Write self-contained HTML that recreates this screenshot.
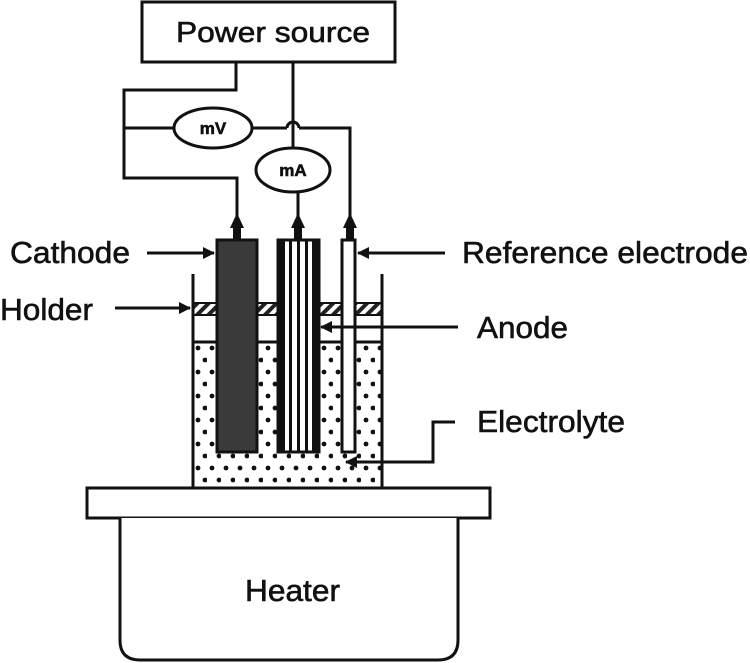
<!DOCTYPE html>
<html><head><style>
html,body{margin:0;padding:0;background:#fff;}
svg{display:block;}
text{font-family:"Liberation Sans",Arial,sans-serif;fill:#111;stroke:#111;stroke-width:0.6;}
</style></head><body>
<svg width="750" height="663" viewBox="0 0 750 663" xmlns="http://www.w3.org/2000/svg">
<defs>
<pattern id="dots" x="193" y="342" width="14" height="24" patternUnits="userSpaceOnUse">
<circle cx="5" cy="6" r="2.4" fill="#111"/>
<circle cx="12" cy="18" r="2.4" fill="#111"/>
</pattern>
<pattern id="hatch" width="8" height="8" patternUnits="userSpaceOnUse" patternTransform="rotate(45)">
<rect width="8" height="8" fill="#fff"/>
<rect width="4" height="8" fill="#222"/>
</pattern>
<marker id="ah" markerWidth="12" markerHeight="12" refX="11" refY="6" orient="auto" markerUnits="userSpaceOnUse">
<path d="M0,0 L12,6 L0,12 Z" fill="#111"/>
</marker>
</defs>
<g stroke="#111" stroke-width="3" fill="none">
<rect x="142" y="2" width="253" height="60" fill="#fff"/>
<polyline points="236,62 236,90 124,90 124,178 237,178 237,220"/>
<line x1="124" y1="128" x2="174" y2="128"/>
<ellipse cx="213" cy="128" rx="39" ry="20" fill="#fff"/>
<polyline points="252,128 287,128"/>
<path d="M287,128 a6,6 0 0 1 12,0"/>
<polyline points="299,128 350,128 350,220"/>
<line x1="293" y1="62" x2="293" y2="148"/>
<ellipse cx="293" cy="170" rx="37" ry="22" fill="#fff"/>
<line x1="298" y1="192" x2="298" y2="220"/>
</g>
<g fill="#111">
<path d="M230,228 L237,213 L244,228 Z"/><rect x="233" y="222" width="8" height="18"/>
<path d="M291,228 L298,213 L305,228 Z"/><rect x="294" y="222" width="8" height="18"/>
<path d="M343,228 L350,213 L357,228 Z"/><rect x="346" y="222" width="8" height="18"/>
</g>
<text x="176" y="42" font-size="29" textLength="194" lengthAdjust="spacingAndGlyphs">Power source</text>
<text x="213" y="134" font-size="17" font-weight="bold" text-anchor="middle" stroke-width="0">mV</text>
<text x="293" y="176" font-size="17" font-weight="bold" text-anchor="middle" stroke-width="0">mA</text>
<rect x="193" y="342" width="189" height="145" fill="url(#dots)"/>
<line x1="193" y1="342" x2="382" y2="342" stroke="#111" stroke-width="3"/>
<rect x="193" y="303" width="189" height="12" fill="url(#hatch)" stroke="#111" stroke-width="2"/>
<g stroke="#111" stroke-width="3" fill="none">
<line x1="193" y1="274" x2="193" y2="488"/>
<line x1="382" y1="274" x2="382" y2="488"/>
</g>
<rect x="217" y="240" width="40" height="212" fill="#3a3a3a" stroke="#111" stroke-width="3"/>
<rect x="278" y="240" width="41" height="212" fill="#fff" stroke="#111" stroke-width="3"/>
<g fill="#111">
<rect x="279" y="240" width="6" height="212"/>
<rect x="289" y="240" width="3" height="212"/>
<rect x="297" y="240" width="3" height="212"/>
<rect x="305" y="240" width="3" height="212"/>
<rect x="312" y="240" width="6" height="212"/>
</g>
<rect x="342" y="240" width="13" height="212" fill="#fff" stroke="#111" stroke-width="3"/>
<rect x="87" y="488" width="403" height="30" fill="#fff" stroke="#111" stroke-width="3"/>
<path d="M120,518 L120,640 Q120,660 140,660 L438,660 Q458,660 458,640 L458,518" fill="#fff" stroke="#111" stroke-width="3"/>
<g stroke="#111" stroke-width="3" fill="none">
<line x1="147" y1="253" x2="214" y2="253" marker-end="url(#ah)"/>
<line x1="115" y1="308" x2="190" y2="308" marker-end="url(#ah)"/>
<line x1="445" y1="253" x2="358" y2="253" marker-end="url(#ah)"/>
<line x1="458" y1="327" x2="321" y2="327" marker-end="url(#ah)"/>
<polyline points="455,422 433,422 433,462 346,462" marker-end="url(#ah)"/>
</g>
<text x="10" y="263" font-size="31" textLength="120" lengthAdjust="spacingAndGlyphs">Cathode</text>
<text x="0" y="320" font-size="31" textLength="93" lengthAdjust="spacingAndGlyphs">Holder</text>
<text x="462" y="263" font-size="31" textLength="286" lengthAdjust="spacingAndGlyphs">Reference electrode</text>
<text x="477" y="338" font-size="31" textLength="91" lengthAdjust="spacingAndGlyphs">Anode</text>
<text x="477" y="432" font-size="31" textLength="148" lengthAdjust="spacingAndGlyphs">Electrolyte</text>
<text x="245" y="601" font-size="31" textLength="95" lengthAdjust="spacingAndGlyphs">Heater</text>
</svg>
</body></html>
